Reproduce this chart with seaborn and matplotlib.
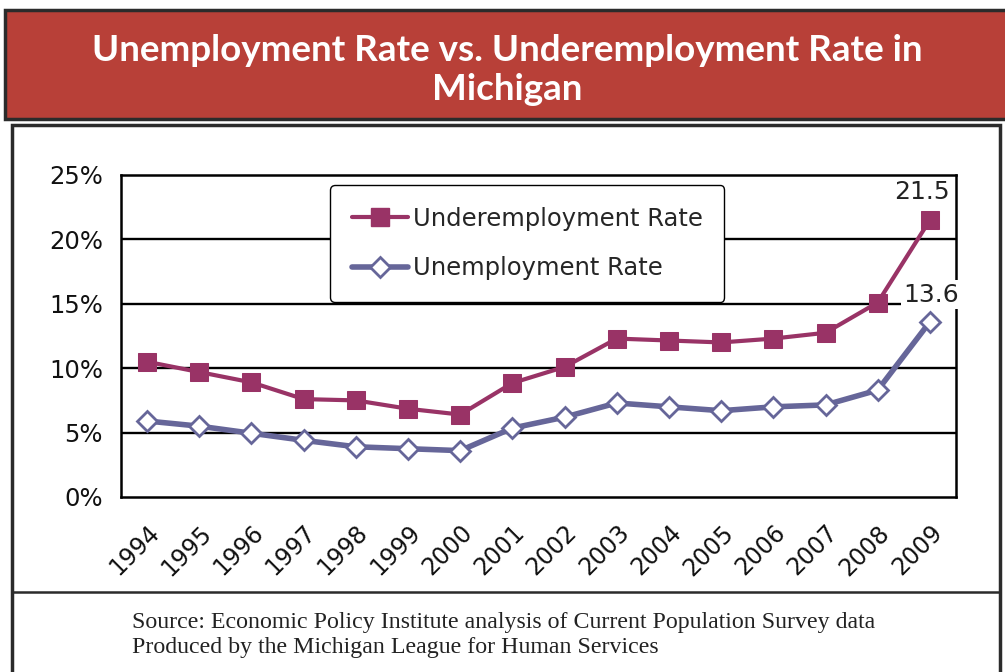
import numpy as np
import pandas as pd
import matplotlib
matplotlib.use("Agg")
import matplotlib.pyplot as plt
import matplotlib.transforms as mtransforms
from matplotlib.patches import Rectangle
from matplotlib.lines import Line2D
import seaborn as sns

years = ["1994", "1995", "1996", "1997", "1998", "1999", "2000", "2001",
         "2002", "2003", "2004", "2005", "2006", "2007", "2008", "2009"]
underemployment = [10.5, 9.7, 8.9, 7.6, 7.5, 6.85, 6.4, 8.85,
                   10.1, 12.3, 12.15, 12.0, 12.3, 12.75, 15.1, 21.5]
unemployment = [5.9, 5.5, 4.95, 4.4, 3.9, 3.75, 3.6, 5.35,
                6.2, 7.3, 7.0, 6.7, 7.0, 7.15, 8.3, 13.6]
series_names = ["Underemployment Rate", "Unemployment Rate"]
yticks = [0, 5, 10, 15, 20, 25]
title = "Unemployment Rate vs. Underemployment Rate in\nMichigan"
source = ("Source: Economic Policy Institute analysis of Current Population Survey data\n"
          "Produced by the Michigan League for Human Services")

UNDER_C = "#993366"
UNEMP_C = "#666699"

sns.set_theme(style="white")
plt.rcParams["font.family"] = ["DejaVu Sans"]

fig = plt.figure(figsize=(10.05, 6.72), dpi=100)
W, H = 1005, 672

def fx(px):
    return px / W

def fy(py):
    return 1 - py / H

# Title banner
fig.patches.append(Rectangle((fx(5), fy(119)), fx(1010) - fx(5), fy(10) - fy(119),
                             transform=fig.transFigure, facecolor="#B84038",
                             edgecolor="#2b2b2b", linewidth=2.5, zorder=-2))
fig.text(fx(507), fy(70), title, ha="center", va="center", color="white",
         fontsize=26.5, fontweight="bold", family=["Lato", "DejaVu Sans"],
         linespacing=1.25)

# Chart box
fig.patches.append(Rectangle((fx(12), fy(680)), fx(1000) - fx(12), fy(125) - fy(680),
                             transform=fig.transFigure, facecolor="white",
                             edgecolor="#2b2b2b", linewidth=2.5, zorder=-2))
fig.lines.append(Line2D([fx(12), fx(1000)], [fy(592), fy(592)], transform=fig.transFigure,
                        color="#2b2b2b", linewidth=1.8, zorder=-1))
fig.text(fx(132), fy(635), source, ha="left", va="center", fontsize=17.2,
         family=["Liberation Serif"], color="#222222", linespacing=1.3)

ax = fig.add_axes([fx(121), fy(497), fx(956) - fx(121), fy(175) - fy(497)])
ax.set_zorder(3)
ax.set_facecolor("white")

x = np.arange(len(years))
df = pd.DataFrame({
    "x": np.concatenate([x, x]),
    "value": underemployment + unemployment,
    "series": [series_names[0]] * len(years) + [series_names[1]] * len(years),
})

sns.lineplot(data=df[df.series == series_names[0]], x="x", y="value", ax=ax,
             color=UNDER_C, linewidth=3, marker="s", markersize=12.5,
             markerfacecolor=UNDER_C, markeredgecolor=UNDER_C, zorder=4,
             label=series_names[0], legend=False)
sns.lineplot(data=df[df.series == series_names[1]], x="x", y="value", ax=ax,
             color=UNEMP_C, linewidth=4, marker="D", markersize=10,
             markerfacecolor="white", markeredgecolor=UNEMP_C, markeredgewidth=2,
             zorder=3, label=series_names[1], legend=False)

ax.set_xlim(-0.5, len(years) - 0.5)
ax.set_ylim(0, 25)
ax.set_yticks(yticks)
ax.set_yticklabels([f"{t}%" for t in yticks], fontsize=17.5, color="#111111")
for t in yticks[1:-1]:
    ax.axhline(t, color="black", linewidth=1.7, zorder=1)

ax.set_xticks(x)
ax.set_xticklabels(years, rotation=45, ha="right", rotation_mode="anchor",
                   fontsize=17, color="#111111")
shift = mtransforms.ScaledTranslation(-13 / 100, 0, fig.dpi_scale_trans)
for lab in ax.get_xticklabels():
    lab.set_transform(lab.get_transform() + shift)
ax.set_xticks(np.arange(len(years) + 1) - 0.5, minor=True)
ax.tick_params(axis="x", which="major", length=0, pad=17)
ax.tick_params(axis="x", which="minor", length=7, width=1.5, color="black", direction="out")
ax.tick_params(axis="y", which="major", length=8, width=1.5, color="black",
               direction="out", pad=5)
ax.set_xlabel("")
ax.set_ylabel("")

for s in ax.spines.values():
    s.set_visible(True)
    s.set_color("black")
    s.set_linewidth(1.8)

# Data labels
ax.annotate(f"{underemployment[-1]:.1f}", (x[-1], underemployment[-1]),
            xytext=(-6, 20), textcoords="offset points", ha="center", va="center",
            fontsize=18, color="#222222", zorder=6)
ax.annotate(f"{unemployment[-1]:.1f}", (x[-1], unemployment[-1]),
            xytext=(1, 19.5), textcoords="offset points", ha="center", va="center",
            fontsize=18, color="#222222", zorder=6, annotation_clip=False,
            bbox=dict(boxstyle="square,pad=0.1", facecolor="white", edgecolor="none"))

handles = [
    Line2D([0], [0], color=UNDER_C, linewidth=3, marker="s", markersize=12.5,
           markerfacecolor=UNDER_C, markeredgecolor=UNDER_C),
    Line2D([0], [0], color=UNEMP_C, linewidth=4, marker="D", markersize=10,
           markerfacecolor="white", markeredgecolor=UNEMP_C, markeredgewidth=2),
]
leg = ax.legend(handles, series_names, loc="upper left",
                bbox_to_anchor=((330 - 121) / 835, (497 - 185) / 322),
                fontsize=17.5, frameon=True, fancybox=True, framealpha=1,
                edgecolor="black", handlelength=2.3, handletextpad=0.2,
                labelspacing=1.05, borderpad=0.9, borderaxespad=0)
leg.get_frame().set_linewidth(1.0)
leg.set_zorder(5)

fig.savefig("out.png", dpi=100, facecolor="white")
